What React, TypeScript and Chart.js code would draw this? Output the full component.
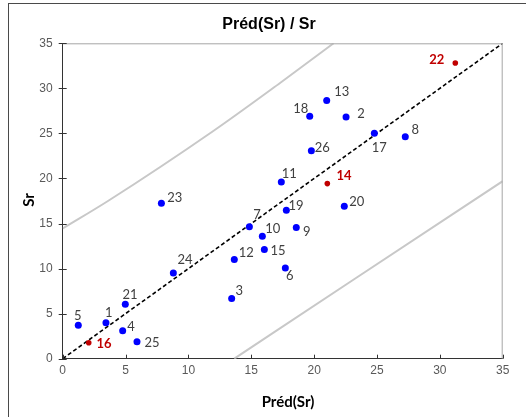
import React, { useEffect, useRef } from "react";
import { Chart, registerables } from "chart.js";

Chart.register(...registerables);

// ---- data ----
const blueIds = ["1", "2", "3", "4", "5", "6", "7", "8", "9", "10", "11", "12", "13", "15", "17", "18", "19", "20", "21", "23", "24", "25", "26"];
const bluePred = [3.44, 22.54, 13.44, 4.77, 1.24, 17.71, 14.85, 27.25, 18.58, 15.88, 17.39, 13.65, 21.0, 16.04, 24.79, 19.65, 17.79, 22.4, 4.98, 7.85, 8.8, 5.91, 19.78];
const blueSr = [3.98, 26.82, 6.67, 3.09, 3.72, 10.06, 14.63, 24.64, 14.55, 13.59, 19.6, 11.02, 28.66, 12.12, 25.02, 26.9, 16.46, 16.91, 6.04, 17.24, 9.5, 1.88, 23.09];

const redIds = ["14", "16", "22"];
const redPred = [21.05, 2.07, 31.23];
const redSr = [19.43, 1.77, 32.82];

const diagX = [0, 35];
const diagY = [0, 35];
const upperX = [0, 3.6, 11.98, 17.29, 21.55];
const upperY = [14.45, 17.5, 25.27, 30.6, 35];
const lowerX = [13.65, 23.0, 35];
const lowerY = [0, 8.65, 19.7];

const tickValues = [0, 5, 10, 15, 20, 25, 30, 35];

// label placement (text centre offset from the point, px)
const labelOffsets: Record<string, [number, number]> = {
  "1": [2.7, -10], "2": [15, -3.3], "3": [7.6, -7.3], "4": [8.3, -4], "5": [-0.6, -9],
  "6": [4.4, 7.6], "7": [7.7, -12.3], "8": [10, -6.7], "9": [10.4, 4], "10": [10.4, -7.4],
  "11": [8, -8.6], "12": [12, -6.3], "13": [15, -8.6], "14": [16.7, -7.3], "15": [13.7, 1.7],
  "16": [15.3, 0.6], "17": [5, 14.4], "18": [-9, -7.3], "19": [9.7, -4.4], "20": [12.4, -4.4],
  "21": [4.7, -9], "22": [-18.6, -3.4], "23": [13.4, -5.4], "24": [11.7, -13.7], "25": [15, 1],
  "26": [11, -3],
};

const pts = (xs: number[], ys: number[]) => xs.map((x, i) => ({ x, y: ys[i] }));

const decorPlugin = {
  id: "decor",
  beforeDraw(chart: any) {
    const ctx = chart.ctx;
    ctx.save();
    ctx.fillStyle = "#ffffff";
    ctx.fillRect(0, 0, chart.width, chart.height);
    ctx.strokeStyle = "#4a4a4a";
    ctx.lineWidth = 1;
    ctx.strokeRect(8.5, 3.5, 700, 700);
    ctx.restore();
  },
  afterDraw(chart: any) {
    const ctx = chart.ctx;
    const { left, right, top, bottom } = chart.chartArea;
    const xs = chart.scales.x;
    const ys = chart.scales.y;
    ctx.save();
    // plot area border (top, right)
    ctx.strokeStyle = "#a6a6a6";
    ctx.lineWidth = 1;
    ctx.beginPath();
    ctx.moveTo(left, top + 0.5);
    ctx.lineTo(right - 0.5, top + 0.5);
    ctx.lineTo(right - 0.5, bottom);
    ctx.stroke();
    // ticks
    ctx.strokeStyle = "#333333";
    ctx.beginPath();
    tickValues.forEach((v) => {
      const py = Math.round(ys.getPixelForValue(v)) + 0.5;
      ctx.moveTo(left - 4, py);
      ctx.lineTo(left + 4, py);
      const px = Math.round(xs.getPixelForValue(v)) + 0.5;
      ctx.moveTo(px, bottom - 4);
      ctx.lineTo(px, bottom);
    });
    ctx.stroke();
    // titles
    ctx.fillStyle = "#000000";
    ctx.textAlign = "center";
    ctx.textBaseline = "middle";
    ctx.font = "bold 16px 'Liberation Sans', Arial, sans-serif";
    ctx.fillText("Préd(Sr) / Sr", 269, 25);
    ctx.font = "bold 15px Lato, 'Open Sans', sans-serif";
    ctx.fillText("Préd(Sr)", 288, 402);
    ctx.translate(29, 200);
    ctx.rotate(-Math.PI / 2);
    ctx.fillText("Sr", 0, 0);
    ctx.restore();
  },
  afterDatasetsDraw(chart: any) {
    const ctx = chart.ctx;
    ctx.save();
    ctx.textAlign = "center";
    ctx.textBaseline = "middle";
    chart.data.datasets.forEach((ds: any, di: number) => {
      if (!ds.pointLabels) return;
      const meta = chart.getDatasetMeta(di);
      ctx.fillStyle = ds.labelColor;
      ctx.font = ds.labelFont;
      meta.data.forEach((el: any, i: number) => {
        const id = ds.pointLabels[i];
        const off = labelOffsets[id] || [10, -6];
        ctx.fillText(id, el.x + off[0], el.y + off[1]);
      });
    });
    ctx.restore();
  },
};

export default function App() {
  const ref = useRef<HTMLCanvasElement | null>(null);
  useEffect(() => {
    if (!ref.current) return;
    const chart = new Chart(ref.current, {
      type: "scatter",
      data: {
        datasets: [
          {
            data: pts(bluePred, blueSr),
            backgroundColor: "#0000ff",
            borderColor: "#0000ff",
            pointRadius: 3.5,
            pointBorderWidth: 0,
            order: 0,
            pointLabels: blueIds,
            labelColor: "#404040",
            labelFont: "13px Lato, 'Open Sans', sans-serif",
          } as any,
          {
            data: pts(redPred, redSr),
            backgroundColor: "#c00000",
            borderColor: "#c00000",
            pointRadius: 2.8,
            pointBorderWidth: 0,
            order: 0,
            pointLabels: redIds,
            labelColor: "#c00000",
            labelFont: "bold 13px Lato, 'Open Sans', sans-serif",
          } as any,
          {
            data: pts(diagX, diagY),
            showLine: true,
            borderColor: "#000000",
            borderWidth: 1.6,
            borderDash: [4, 2.5],
            pointRadius: 0,
            order: 1,
          },
          {
            data: pts(upperX, upperY),
            showLine: true,
            borderColor: "#c8c8c8",
            borderWidth: 2,
            pointRadius: 0,
            cubicInterpolationMode: "monotone",
            order: 2,
          },
          {
            data: pts(lowerX, lowerY),
            showLine: true,
            borderColor: "#c8c8c8",
            borderWidth: 2,
            pointRadius: 0,
            cubicInterpolationMode: "monotone",
            order: 2,
          },
        ],
      },
      options: {
        animation: false,
        responsive: false,
        layout: { padding: { top: 43.3, right: 23.3, bottom: 0, left: 0 } },
        plugins: { legend: { display: false }, tooltip: { enabled: false }, title: { display: false } },
        scales: {
          x: {
            type: "linear",
            min: 0,
            max: 35,
            ticks: {
              stepSize: 5,
              padding: 5,
              color: "#595959",
              font: { family: "'Liberation Sans', Arial, sans-serif", size: 12 },
            },
            grid: { display: false, drawTicks: false },
            border: { display: true, color: "#333333", width: 1 },
            afterFit: (s: any) => { s.height = 417 - 358.7; },
          },
          y: {
            type: "linear",
            min: 0,
            max: 35,
            ticks: {
              stepSize: 5,
              padding: 10,
              color: "#595959",
              font: { family: "'Liberation Sans', Arial, sans-serif", size: 12 },
            },
            grid: { display: false, drawTicks: false },
            border: { display: true, color: "#333333", width: 1 },
            afterFit: (s: any) => { s.width = 62.7; },
          },
        },
      },
      plugins: [decorPlugin],
    } as any);
    return () => chart.destroy();
  }, []);
  return (
    <div style={{ position: "fixed", left: 0, top: 0, width: 526, height: 417, background: "#fff" }}>
      <canvas ref={ref} width={526} height={417} style={{ display: "block" }} />
    </div>
  );
}
